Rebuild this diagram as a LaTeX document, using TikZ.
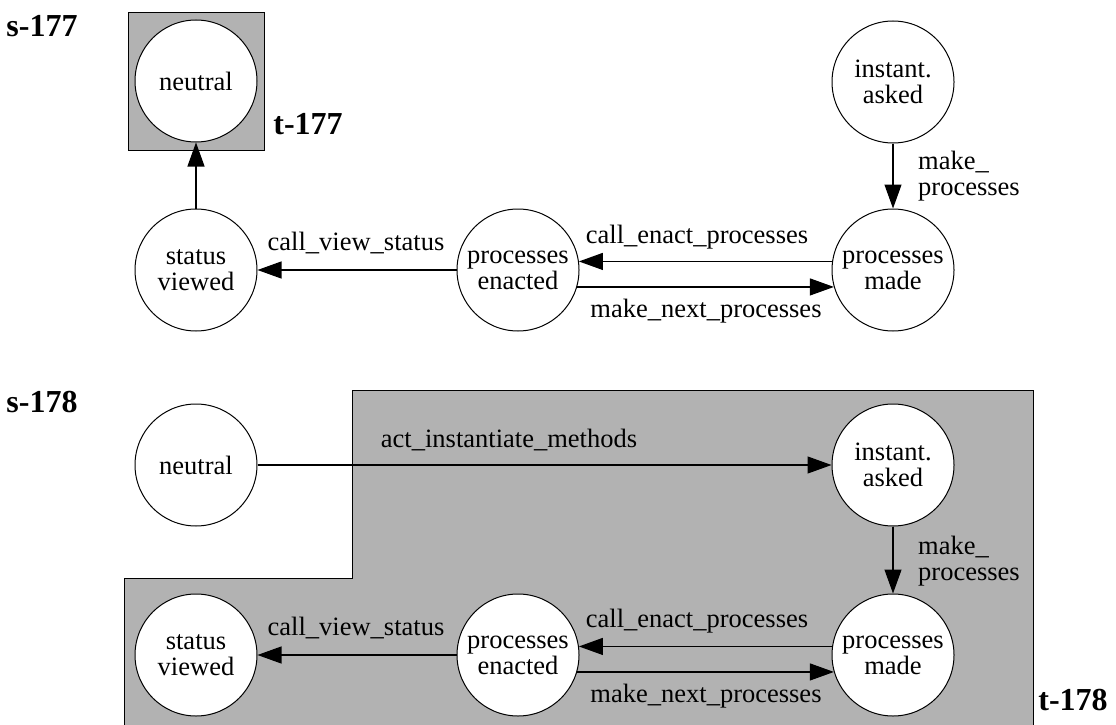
\documentclass[tikz,border=0pt]{standalone}
\usepackage{fontspec}
\setmainfont{Liberation Serif}
\usetikzlibrary{arrows.meta}
\tikzset{
  st/.style={circle, draw=black, line width=1pt, fill=white, minimum size=122pt, inner sep=0pt, align=center, font=\fontsize{26.5}{26}\selectfont},
  lbl/.style={font=\fontsize{26.5}{26}\selectfont, inner sep=0pt},
  big/.style={font=\fontsize{32}{32}\selectfont\bfseries, inner sep=0pt},
  arr/.style={-{Triangle[length=24pt,width=17pt]}, line width=1.2pt},
  grp/.style={fill=black!30, draw=black, line width=1pt}
}
\begin{document}
\begin{tikzpicture}[x=1pt,y=-1pt]
\useasboundingbox (0,0) rectangle (1116,725);
% ---- s-177 ----
\draw[grp] (128,13) rectangle (264,150);
\node[st] (n1) at (196,81) {neutral};
\node[st] (sv1) at (196,270) {status\\viewed};
\node[st] (pe1) at (518,270) {processes\\enacted};
\node[st] (pm1) at (893,270) {processes\\made};
\node[st] (ia1) at (893,82) {instant.\\asked};
\draw[arr] (sv1) -- (n1);
\draw[arr] (pe1) -- (sv1);
\draw[arr] (ia1) -- (pm1);
\draw[arr] (pm1.172) -- (pe1.8);
\draw[arr] (pe1.-16) -- (pm1.196);
\node[lbl] (l1) at (356,243) {call\_view\_status};
\node[lbl] (l2) at (697,237) {call\_enact\_processes};
\node[lbl] (l3) at (706,311) {make\_next\_processes};
\node[lbl, align=left, anchor=west] (l4) at (918,176) {make\_\\processes};
\node[big] (s177) at (42,26) {s-177};
\node[big] (t177) at (308,124) {t-177};
% ---- s-178 ----
\draw[grp] (352,390) -- (1033,390) -- (1033,728) -- (124,728) -- (124,578) -- (352,578) -- cycle;
\node[st] (n2) at (196,465) {neutral};
\node[st] (ia2) at (893,465) {instant.\\asked};
\node[st] (pm2) at (893,655) {processes\\made};
\node[st] (pe2) at (518,655) {processes\\enacted};
\node[st] (sv2) at (196,655) {status\\viewed};
\draw[arr] (n2) -- (ia2);
\draw[arr] (ia2) -- (pm2);
\draw[arr] (pm2.172) -- (pe2.8);
\draw[arr] (pe2.-16) -- (pm2.196);
\draw[arr] (pe2) -- (sv2);
\node[lbl] (m1) at (509,440) {act\_instantiate\_methods};
\node[lbl] (m2) at (356,628) {call\_view\_status};
\node[lbl] (m3) at (697,621) {call\_enact\_processes};
\node[lbl] (m4) at (706,696) {make\_next\_processes};
\node[lbl, align=left, anchor=west] (m5) at (918,561) {make\_\\processes};
\node[big] (s178) at (42,402) {s-178};
\node[big] (t178) at (1073,700) {t-178};
\end{tikzpicture}
\end{document}
